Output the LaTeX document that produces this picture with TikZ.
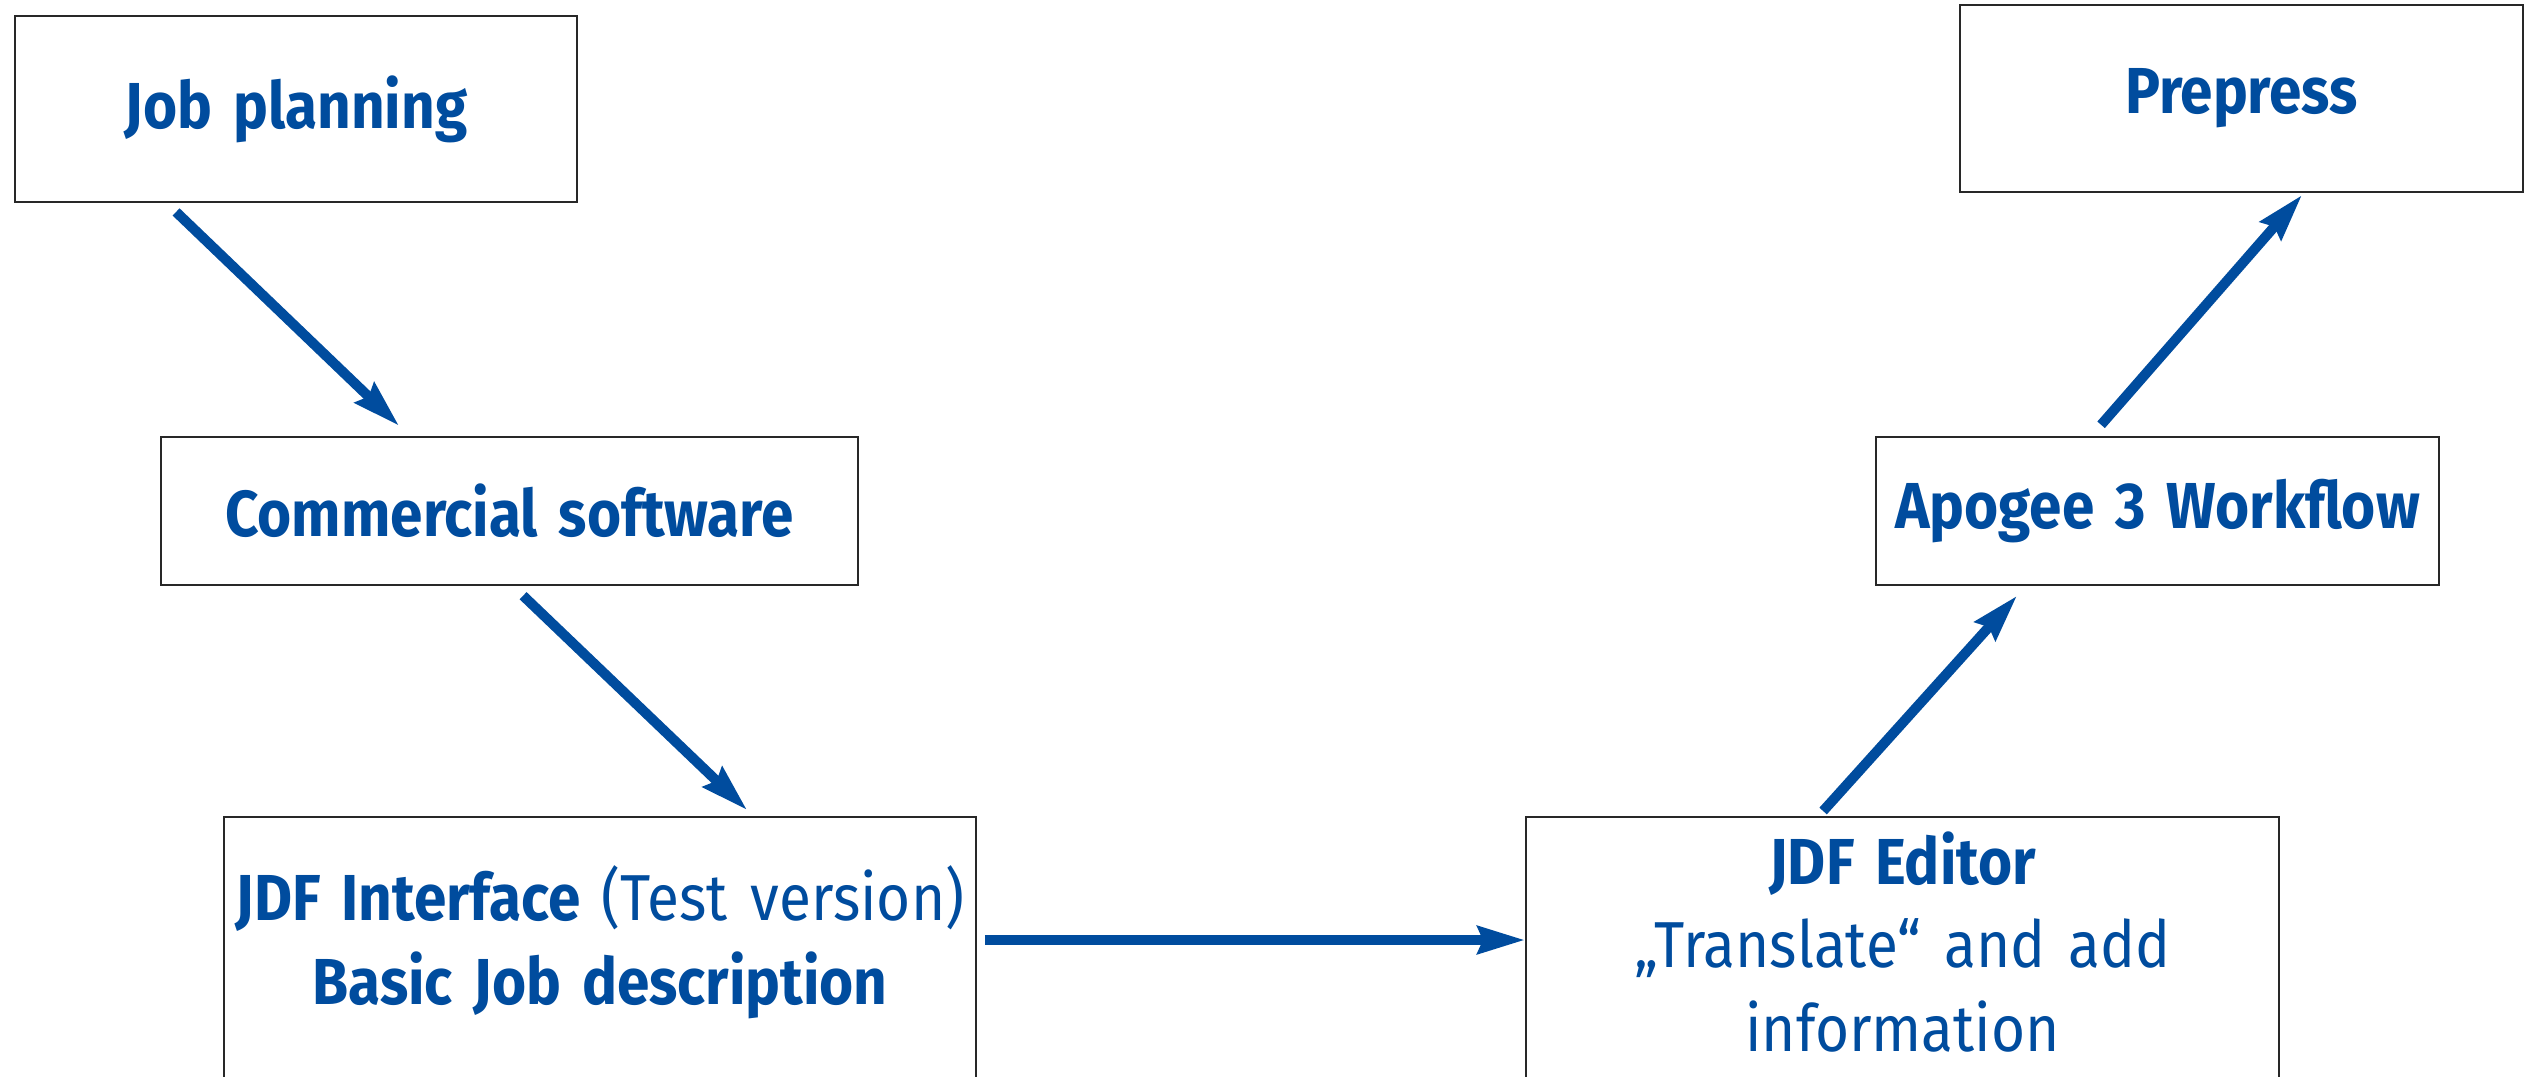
\documentclass[tikz,border=0pt]{standalone}
\usepackage{fontspec}
\setmainfont{Fira Sans}[FakeStretch=0.9,WordSpace=1.5]
\usetikzlibrary{arrows.meta,calc}
\definecolor{jdfblue}{RGB}{0,76,158}
\definecolor{boxline}{RGB}{40,40,40}
\begin{document}
\begin{tikzpicture}[x=0.02cm,y=-0.02cm,
  box/.style={draw=boxline,line width=1.1pt,inner sep=0pt,rectangle},
  lbl/.style={text=jdfblue,font=\fontsize{37}{47.6}\selectfont\bfseries,align=center,inner sep=0pt},
  flow/.style={draw=jdfblue,line width=0.2cm,-{Stealth[length=0.94cm,width=0.54cm,inset=0.1cm]}}]
\useasboundingbox (0,0) rectangle (2529,1076);
\clip (0,0) rectangle (2529,1076);
\fill[white] (0,0) rectangle (2529,1076);

\node[box,lbl,minimum width=11.26cm,minimum height=3.72cm] (jp) at (296,109) {Job planning};
\node[box,lbl,minimum width=13.94cm,minimum height=2.97cm] (cs) at (509.5,511) {Commercial software};
\node[box,minimum width=15.04cm,minimum height=5.68cm,anchor=north] (ji) at (600,816) {};
\node[box,minimum width=15.06cm,minimum height=5.68cm,anchor=north] (je) at (1902.5,816) {};
\node[box,lbl,minimum width=11.26cm,minimum height=2.97cm] (ap) at (2157.5,511) {Apogee 3 Workflow};
\node[box,lbl,minimum width=11.26cm,minimum height=3.74cm] (pp) at (2241.5,98.5) {Prepress};

\node[lbl] (jit) at (600,942) {JDF Interface {\mdseries (Test version)}\\Basic Job description};
\node[lbl] (jet) at (1902.5,942) {JDF Editor\\{\mdseries „Translate“ and add}\\{\mdseries information}};

\draw[flow] ([shift={(162.5,9)}]jp.south west) -- ([shift={(239,-10)}]cs.north west);
\draw[flow] ([shift={(363,9.5)}]cs.south west) -- ([shift={(524,-6)}]ji.north west);
\draw[flow] ([shift={(8,124)}]ji.north east) -- ([shift={(0,124)}]je.north west);
\draw[flow] ([shift={(298,-5)}]je.north west) -- ([shift={(142,9.5)}]ap.south west);
\draw[flow] ([shift={(226,-11)}]ap.north west) -- ([shift={(343,2)}]pp.south west);
\end{tikzpicture}
\end{document}
